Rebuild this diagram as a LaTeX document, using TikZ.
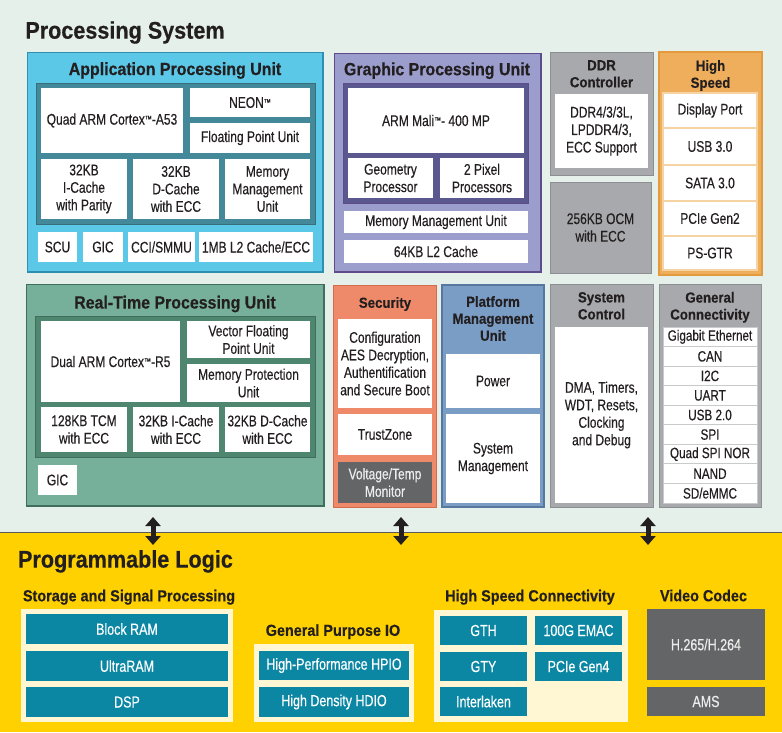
\documentclass[tikz,border=0pt]{standalone}
\usepackage{fontspec}
\setmainfont{Liberation Sans}
\newfontfamily\bodyfont[FakeStretch=0.78,FakeBold=0.35]{Liberation Sans}
\newfontfamily\headfont[FakeStretch=0.9,FakeBold=0.4]{Liberation Sans}
\usetikzlibrary{arrows.meta}
\definecolor{bgtop}{HTML}{E6F0EB}
\definecolor{plyellow}{HTML}{FFD100}
\definecolor{txt}{HTML}{231F20}
\definecolor{apuc}{HTML}{5BC8E8}
\definecolor{apud}{HTML}{2F8FB0}
\definecolor{apup}{HTML}{43899A}
\definecolor{gpuc}{HTML}{9B9DCD}
\definecolor{gpud}{HTML}{5D4B8B}
\definecolor{gpup}{HTML}{5B578F}
\definecolor{greyc}{HTML}{A7A9AC}
\definecolor{greyd}{HTML}{8C8E91}
\definecolor{orc}{HTML}{EFAE5C}
\definecolor{ord}{HTML}{E39A3E}
\definecolor{orl}{HTML}{F6D3A2}
\definecolor{rpuc}{HTML}{77B09A}
\definecolor{rpud}{HTML}{3F6E5C}
\definecolor{rpup}{HTML}{4F8670}
\definecolor{secc}{HTML}{EE8A69}
\definecolor{secd}{HTML}{D46C4C}
\definecolor{pmuc}{HTML}{7A9DC5}
\definecolor{pmud}{HTML}{56789F}
\definecolor{dgrey}{HTML}{646567}
\definecolor{plteal}{HTML}{0B87A4}
\definecolor{cream}{HTML}{FFF6D3}
\definecolor{gcl}{HTML}{C9CACC}
\newcommand\rbox[7]{\node[#1, minimum width={(#5)-(#3)}, minimum height={(#6)-(#4)}] (#2) at ({((#3)+(#5))/2},{((#4)+(#6))/2}) {#7};}
\newcommand\tmark{\raisebox{2.5pt}{\fontsize{9}{9}\selectfont ™}}
\tikzset{
  base/.style={inner sep=0pt, outer sep=0pt, align=center, text=txt},
  wb/.style={base, fill=white, font={\bodyfont\fontsize{15.4}{17.5}\selectfont}},
  gcitem/.style={wb, draw=gcl, line width=1pt, font={\bodyfont\fontsize{15}{17}\selectfont}},
  hsitem/.style={wb, draw=orl, line width=1.4pt},
  outerbox/.style={base, fill=#1},
  panel/.style={base, fill=#1},
  bigtitle/.style={base, font={\headfont\bfseries\fontsize{24}{28}\selectfont}},
  unittitle/.style={base, font={\headfont\bfseries\fontsize{17.7}{20}\selectfont}},
  smalltitle/.style={base, font={\headfont\bfseries\fontsize{14.7}{17}\selectfont}},
  sectitle/.style={base, font={\headfont\bfseries\fontsize{16}{18}\selectfont}},
  plitem/.style={base, fill=plteal, text=white, font={\bodyfont\fontsize{16}{18}\selectfont}},
  vcitem/.style={base, fill=dgrey, text=white!93!black, font={\bodyfont\fontsize{16}{18}\selectfont}},
  contbox/.style={base, fill=cream},
  edge/.style={line width=2.2pt, draw=#1},
  bus/.style={line width=5pt, draw=txt, {Triangle[width=15pt,length=9pt]}-{Triangle[width=15pt,length=9pt]}},
}
\begin{document}
\begin{tikzpicture}[x=1pt,y=-1pt]
\useasboundingbox (0,0) rectangle (782,732);
\fill[bgtop] (0,0) rectangle (782,532);
\fill[plyellow] (0,532) rectangle (782,732);
\draw[line width=1pt, color=black!65] (0,532) -- (782,532);

\node[bigtitle] (psT) at (125,32.5) {Processing System};

% ---------- APU
\rbox{outerbox=apuc, draw=apud, line width=0.8pt}{apu}{27}{52}{323}{272}{}
\draw[edge=apud] (apu.north east) -- (apu.south east) -- (apu.south west);
\node[unittitle] (apuT) at (175,70.5) {Application Processing Unit};
\rbox{panel=apup, draw=apup!80!black, line width=0.8pt}{apuP}{36}{83}{315}{224}{}
\rbox{wb}{quad}{41}{88}{183}{153}{Quad ARM Cortex\tmark-A53}
\rbox{wb}{neon}{190}{88}{310}{117}{NEON\tmark}
\rbox{wb}{fpu}{190}{123}{310}{153}{Floating Point Unit}
\rbox{wb}{icache}{41}{159}{127}{219}{32KB\\I-Cache\\with Parity}
\rbox{wb}{dcache}{133}{159}{219}{219}{32KB\\D-Cache\\with ECC}
\rbox{wb}{ammu}{225}{159}{310}{219}{Memory\\Management\\Unit}
\rbox{wb}{scu}{38}{232}{77}{262}{SCU}
\rbox{wb}{agic}{83}{232}{123}{262}{GIC}
\rbox{wb}{cci}{128}{232}{195}{262}{CCI/SMMU}
\rbox{wb}{al2}{199}{232}{313}{262}{1MB L2 Cache/ECC}

% ---------- GPU
\rbox{outerbox=gpuc, draw=gpud, line width=0.8pt}{gpu}{334}{53}{541}{272}{}
\draw[edge=gpud] (gpu.north east) -- (gpu.south east) -- (gpu.south west);
\node[unittitle] (gpuT) at (437,70.7) {Graphic Processing Unit};
\rbox{panel=gpup, draw=gpud, line width=0.8pt}{gpuP}{343}{83}{528}{203}{}
\rbox{wb}{mali}{348}{88}{524}{153}{ARM Mali\tmark- 400 MP}
\rbox{wb}{geom}{348}{158}{433}{198}{Geometry\\Processor}
\rbox{wb}{pix}{440}{158}{524}{198}{2 Pixel\\Processors}
\rbox{wb}{gmmu}{344}{211}{528}{233}{Memory Management Unit}
\rbox{wb}{gl2}{344}{240}{528}{263}{64KB L2 Cache}

% ---------- DDR / OCM / High speed
\rbox{outerbox=greyc, draw=greyd, line width=0.8pt}{ddr}{550}{52}{653}{175}{}
\node[smalltitle] (ddrT) at (601.5,73.8) {DDR\\Controller};
\rbox{wb}{ddrW}{555}{94}{648}{168}{DDR4/3/3L,\\LPDDR4/3,\\ECC Support}
\rbox{outerbox=greyc, draw=greyd, line width=0.8pt, font={\bodyfont\fontsize{15.4}{17.5}\selectfont}}{ocm}{550}{182}{651}{273}{256KB OCM\\with ECC}

\rbox{outerbox=orc, draw=ord, line width=1.2pt}{hs}{659}{52}{762}{275}{}
\node[smalltitle] (hsT) at (710.5,75.5) {High\\Speed};
\rbox{hsitem}{hs1}{663}{93}{757}{128}{Display Port}
\rbox{hsitem}{hs2}{663}{128}{757}{165}{USB 3.0}
\rbox{hsitem}{hs3}{663}{165}{757}{201}{SATA 3.0}
\rbox{hsitem}{hs4}{663}{201}{757}{236}{PCIe Gen2}
\rbox{hsitem}{hs5}{663}{236}{757}{270}{PS-GTR}

% ---------- RPU
\rbox{outerbox=rpuc, draw=rpud, line width=0.8pt}{rpu}{26}{284}{324}{506}{}
\draw[edge=rpud] (rpu.north east) -- (rpu.south east) -- (rpu.south west);
\node[unittitle] (rpuT) at (175,304) {Real-Time Processing Unit};
\rbox{panel=rpup, draw=rpud, line width=0.8pt}{rpuP}{35}{316}{315}{457}{}
\rbox{wb}{dual}{41}{321}{180}{402}{Dual ARM Cortex\tmark-R5}
\rbox{wb}{vfp}{187}{321}{310}{358}{Vector Floating\\Point Unit}
\rbox{wb}{mpu}{187}{364}{310}{402}{Memory Protection\\Unit}
\rbox{wb}{tcm}{41}{407}{127}{452}{128KB TCM\\with ECC}
\rbox{wb}{ric}{133}{407}{219}{452}{32KB I-Cache\\with ECC}
\rbox{wb}{rdc}{225}{407}{310}{452}{32KB D-Cache\\with ECC}
\rbox{wb}{rgic}{38}{465}{77}{495}{GIC}

% ---------- Security
\rbox{outerbox=secc, draw=secd, line width=0.8pt}{sec}{333}{285}{436}{507}{}
\node[smalltitle] (secT) at (385,304) {Security};
\rbox{wb}{conf}{338}{319}{432}{408}{Configuration\\AES Decryption,\\Authentification\\and Secure Boot}
\rbox{wb}{tz}{338}{414}{432}{455}{TrustZone}
\rbox{wb, fill=dgrey, text=white!93!black}{volt}{338}{462}{432}{503}{Voltage/Temp\\Monitor}

% ---------- PMU
\rbox{outerbox=pmuc, draw=pmud, line width=1.2pt}{pmu}{442}{285}{544}{507}{}
\node[smalltitle] (pmuT) at (493,318.5) {Platform\\Management\\Unit};
\rbox{wb}{power}{446}{354}{540}{408}{Power}
\rbox{wb}{sysm}{446}{414}{540}{503}{System\\Management}

% ---------- System control
\rbox{outerbox=greyc, draw=greyd, line width=0.8pt}{sysc}{550}{284}{653}{507}{}
\node[smalltitle] (syscT) at (601.5,305.8) {System\\Control};
\rbox{wb}{syscW}{555}{327}{648}{503}{DMA, Timers,\\WDT, Resets,\\Clocking\\and Debug}

% ---------- General connectivity
\rbox{outerbox=greyc, draw=greyd, line width=0.8pt}{gc}{659}{284}{761}{507}{}
\node[smalltitle] (gcT) at (710,307.3) {General\\Connectivity};
\rbox{gcitem}{gc1}{663}{327}{757}{346.6}{Gigabit Ethernet}
\rbox{gcitem}{gc2}{663}{346.6}{757}{366.1}{CAN}
\rbox{gcitem}{gc3}{663}{366.1}{757}{385.7}{I2C}
\rbox{gcitem}{gc4}{663}{385.7}{757}{405.2}{UART}
\rbox{gcitem}{gc5}{663}{405.2}{757}{424.8}{USB 2.0}
\rbox{gcitem}{gc6}{663}{424.8}{757}{444.3}{SPI}
\rbox{gcitem}{gc7}{663}{444.3}{757}{463.9}{Quad SPI NOR}
\rbox{gcitem}{gc8}{663}{463.9}{757}{483.4}{NAND}
\rbox{gcitem}{gc9}{663}{483.4}{757}{503}{SD/eMMC}

% ---------- buses
\coordinate (b1t) at (153,517); \coordinate (b1b) at (153,545);
\coordinate (b2t) at (401,517); \coordinate (b2b) at (401,545);
\coordinate (b3t) at (648,517); \coordinate (b3b) at (648,545);
\draw[bus] (b1t) -- (b1b);
\draw[bus] (b2t) -- (b2b);
\draw[bus] (b3t) -- (b3b);

% ---------- Programmable logic
\node[bigtitle] (plT) at (125.5,561.4) {Programmable Logic};

\node[sectitle] (sspT) at (129,597.2) {Storage and Signal Processing};
\rbox{contbox}{ssp}{21}{609}{233}{722}{}
\rbox{plitem}{bram}{26}{614}{228}{644}{Block RAM}
\rbox{plitem}{uram}{26}{651}{228}{681}{UltraRAM}
\rbox{plitem}{dsp}{26}{687}{228}{717}{DSP}

\node[sectitle] (gpioT) at (333,631.7) {General Purpose IO};
\rbox{contbox}{gpio}{254}{644}{414}{722}{}
\rbox{plitem}{hpio}{259}{651}{409}{680}{High-Performance HPIO}
\rbox{plitem}{hdio}{259}{687}{409}{717}{High Density HDIO}

\node[sectitle] (hscT) at (530,597.2) {High Speed Connectivity};
\rbox{contbox}{hsc}{434}{610}{628}{722}{}
\rbox{plitem}{gth}{440}{616}{527}{645}{GTH}
\rbox{plitem}{emac}{535}{616}{622}{645}{100G EMAC}
\rbox{plitem}{gty}{440}{652}{527}{681}{GTY}
\rbox{plitem}{pcie}{535}{652}{622}{681}{PCIe Gen4}
\rbox{plitem}{ilkn}{440}{687}{527}{716}{Interlaken}

\node[sectitle] (vcT) at (703.5,595.5) {Video Codec};
\rbox{vcitem}{h265}{647}{609}{765}{680}{H.265/H.264}
\rbox{vcitem}{ams}{647}{687}{765}{716}{AMS}
\end{tikzpicture}
\end{document}
